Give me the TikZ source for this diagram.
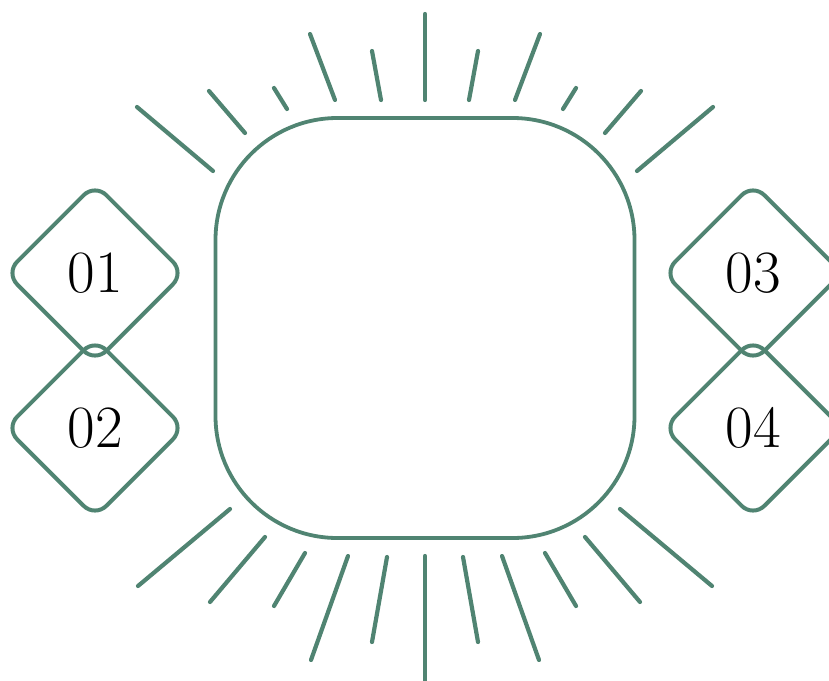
\documentclass[tikz,border=0pt]{standalone}
\usetikzlibrary{shapes.geometric}
\definecolor{gr}{RGB}{80,132,114}
\begin{document}
\begin{tikzpicture}[x=1pt,y=-1pt,
  ray/.style={draw=gr,line width=4.2pt,line cap=round},
  dia/.style={diamond,draw=gr,line width=4pt,rounded corners=16pt,minimum width=180pt,minimum height=180pt,inner sep=0pt,font=\fontsize{60}{64}\selectfont},
  core/.style={rectangle,draw=gr,line width=3.8pt,rounded corners=122pt,minimum width=419pt,minimum height=420pt}]
\clip (0,0) rectangle (829,680);
\node[core] (c) at (425,328) {};
\node[dia] (d1) at (95,273) {01};
\node[dia] (d2) at (95,428) {02};
\node[dia] (d3) at (753,273) {03};
\node[dia] (d4) at (753,428) {04};
% top rays (left half, then mirrored)
\foreach \xa/\ya/\xb/\yb in {137/107/213/171, 209/91/245/133, 274/88/287/109, 310/34/335/100, 372/51/381/100}{
  \draw[ray] (\xa,\ya) -- (\xb,\yb);
  \draw[ray] (850-\xa,\ya) -- (850-\xb,\yb);
}
\draw[ray] (425,14) -- (425,100);
% bottom rays
\foreach \xa/\ya/\xb/\yb in {230/509/138/586, 265/537/210/602, 305/553/274/606, 348/556/311/660, 387/557/372/642}{
  \draw[ray] (\xa,\ya) -- (\xb,\yb);
  \draw[ray] (850-\xa,\ya) -- (850-\xb,\yb);
}
\draw[ray] (425,556) -- (425,682);
\end{tikzpicture}
\end{document}
